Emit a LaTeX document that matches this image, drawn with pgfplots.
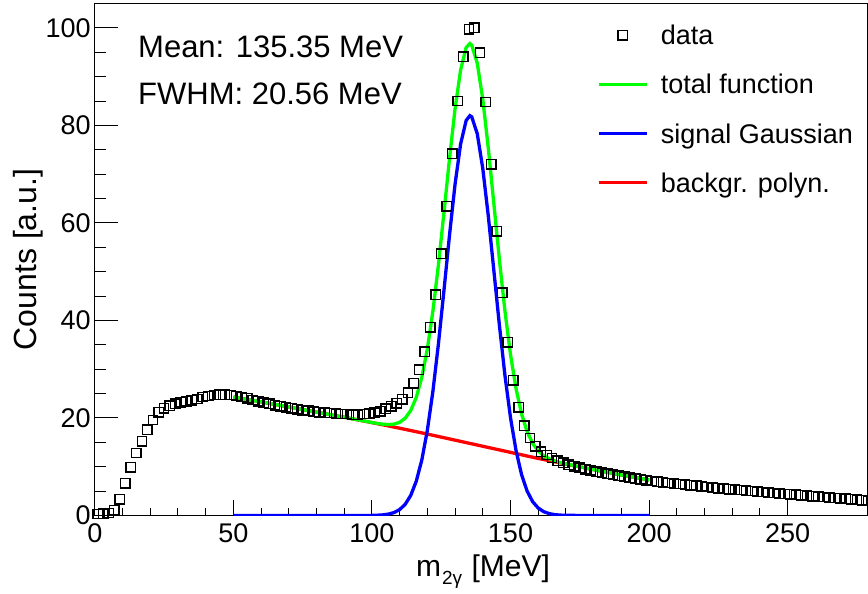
\documentclass[border=0pt]{standalone}
\usepackage{fontspec}
\setmainfont{Liberation Sans}
\usepackage{pgfplots}
\pgfplotsset{compat=1.18}

\definecolor{rgreen}{rgb}{0,1,0}
\definecolor{rblue}{rgb}{0,0,1}
\definecolor{rred}{rgb}{1,0,0}

\newcommand\ticksize{\fontsize{27}{32}\selectfont}
\newcommand\titlesize{\fontsize{32}{38}\selectfont}
\newcommand\textsz{\fontsize{31}{36}\selectfont}

\pgfplotsset{
  datalegend/.style={legend image code/.code={\draw[##1] plot coordinates {(24.15pt,0pt)};}},
}

\begin{document}
\begin{tikzpicture}
\path[use as bounding box] (0,0) rectangle (868pt,594pt);
\begin{axis}[
  at={(94.8pt,78.5pt)}, anchor=south west,
  scale only axis, width=773.2pt, height=512pt,
  xmin=0, xmax=279, ymin=0, ymax=105,
  xtick={0,50,...,250}, ytick={0,20,...,100},
  minor x tick num=4, minor y tick num=3,
  xtick pos=left, ytick pos=left,
  tick align=inside,
  xtick style={black, line width=1pt, /pgfplots/major tick length=15pt, /pgfplots/minor tick length=7.5pt},
  ytick style={black, line width=1pt, /pgfplots/major tick length=23pt, /pgfplots/minor tick length=11.5pt},
  axis line style={line width=1.3pt},
  /pgf/number format/assume math mode=true,
  tick label style={font=\ticksize},
  xticklabel style={inner sep=0pt, yshift=-7.5pt},
  yticklabel style={inner sep=0pt, xshift=-4pt},
  legend style={at={(axis description cs:0.6491,0.9668)}, anchor=north west,
    draw=none, fill=none, inner sep=0pt, row sep=20.2pt, font=\ticksize,
    nodes={inner sep=0pt, inner xsep=12.3pt, text height=24pt, text depth=5pt},
    cells={anchor=west}},
  legend image code/.code={\draw[#1] (0pt,0pt) -- (48.3pt,0pt);},
]
\addlegendimage{only marks, mark=square, mark size=4.7pt, black, line width=1.4pt, datalegend}
\addlegendentry{data}
\addlegendimage{rgreen, line width=3.3pt}
\addlegendentry{total function}
\addlegendimage{rblue, line width=3.3pt}
\addlegendentry{signal Gaussian}
\addlegendimage{rred, line width=3.3pt}
\addlegendentry{backgr. polyn.}

% background polynomial
\addplot[rred, line width=3.3pt, forget plot] coordinates {
(50,24.3)(60,23.3)(70,22.25)(80,21.2)(90,20.15)(100,19.05)(110,17.9)(120,16.7)
(130,15.45)(140,14.2)(150,12.95)(160,11.7)(170,10.55)(180,9.4)(190,8.3)(200,7.3)};

% signal gaussian
\addplot[rblue, line width=3.3pt, forget plot] coordinates {
(50,0)(90,0)(100,0.02)(102,0.06)(104,0.13)(106,0.29)(108,0.61)(110,1.21)(112,2.29)
(114,4.12)(116,7.03)(118,11.39)(120,17.48)(122,25.48)(124,35.23)(126,46.21)(128,57.54)
(130,67.97)(132,76.18)(134,81.02)(135.35,82)(136,81.77)(138,78.31)(140,71.16)(142,61.35)
(144,50.20)(146,38.98)(148,28.71)(150,20.06)(152,13.31)(154,8.37)(156,5.00)(158,2.83)
(160,1.53)(162,0.78)(164,0.38)(166,0.17)(168,0.08)(170,0.03)(180,0)(200,0)};

% total function
\addplot[rgreen, line width=3.3pt, forget plot] coordinates {
(50,24.3)(60,23.3)(70,22.25)(80,21.2)(90,20.15)(100,19.07)(102,18.88)(104,18.72)
(106,18.65)(108,18.74)(110,19.11)(112,19.95)(114,21.54)(116,24.21)(118,28.33)(120,34.18)
(122,41.93)(124,51.43)(126,62.16)(128,73.24)(130,83.42)(132,91.38)(134,95.97)(135.35,96.78)
(136,96.47)(138,92.76)(140,85.36)(142,75.30)(144,63.90)(146,52.43)(148,41.91)(150,33.01)
(152,26.01)(154,20.82)(156,17.20)(158,14.78)(160,13.23)(162,12.25)(164,11.62)(166,11.18)
(168,10.86)(170,10.58)(180,9.4)(190,8.3)(200,7.3)};

% data
\addplot[only marks, mark=square, mark size=4.7pt, black, line width=1.4pt, forget plot] coordinates {
(1,0.3)(3,0.4)(5,0.5)(7,1.1)(9,3.3)(11,6.6)(13,9.9)(15,12.8)(17,15.2)(19,17.6)
(21,19.6)(23,21.2)(25,22.0)(27,22.5)(29,22.9)(31,23.2)(33,23.4)(35,23.6)(37,23.9)(39,24.3)
(41,24.5)(43,24.7)(45,24.8)(47,24.8)(49,24.7)(51,24.5)(53,24.3)(55,24.0)(57,23.7)(59,23.4)
(61,23.1)(63,22.9)(65,22.6)(67,22.4)(69,22.2)(71,22.0)(73,21.8)(75,21.6)(77,21.5)(79,21.3)
(81,21.2)(83,21.1)(85,21.0)(87,20.9)(89,20.8)(91,20.8)(93,20.7)(95,20.7)(97,20.8)(99,20.9)
(101,21.1)(103,21.4)(105,21.9)(107,22.4)(109,23.0)(111,23.8)(113,25.2)(115,27.1)(117,29.9)(119,33.6)
(121,38.6)(123,45.3)(125,53.7)(127,63.4)(129,74.2)(131,85.0)(133,94.1)(135,99.7)(137,100.0)(139,94.9)
(141,84.8)(143,72.0)(145,58.3)(147,45.7)(149,35.5)(151,27.7)(153,22.2)(155,18.4)(157,15.9)(159,14.2)
(161,13.1)(163,12.4)(165,11.8)(167,11.2)(169,10.8)(171,10.4)(173,10.1)(175,9.8)(177,9.5)(179,9.25)
(181,9.0)(183,8.8)(185,8.55)(187,8.35)(189,8.15)(191,7.95)(193,7.75)(195,7.55)(197,7.4)(199,7.25)
(201,7.07)(203,6.94)(205,6.81)(207,6.68)(209,6.56)(211,6.44)(213,6.32)(215,6.20)(217,6.08)(219,5.96)
(221,5.84)(223,5.72)(225,5.61)(227,5.51)(229,5.41)(231,5.31)(233,5.21)(235,5.11)(237,5.01)(239,4.91)
(241,4.81)(243,4.71)(245,4.61)(247,4.51)(249,4.41)(251,4.32)(253,4.23)(255,4.14)(257,4.05)(259,3.96)
(261,3.87)(263,3.78)(265,3.69)(267,3.60)(269,3.51)(271,3.42)(273,3.33)(275,3.24)(277,3.15)(279,3.06)};
\end{axis}
\node[anchor=base west, inner sep=0pt, font=\textsz] at (138pt,536pt) {Mean: 135.35 MeV};
\node[anchor=base west, inner sep=0pt, font=\textsz] at (138pt,489pt) {FWHM: 20.56 MeV};
\node[anchor=base, inner sep=0pt, font=\fontsize{30}{36}\selectfont] at (483pt,17pt) {m\kern1pt\raisebox{-8pt}{\fontsize{19}{19}\selectfont 2γ}\kern1pt{} [MeV]};
\node[anchor=base, rotate=90, inner sep=0pt, font=\titlesize] at (36.5pt,334.5pt) {Counts [a.u.]};
\end{tikzpicture}
\end{document}
